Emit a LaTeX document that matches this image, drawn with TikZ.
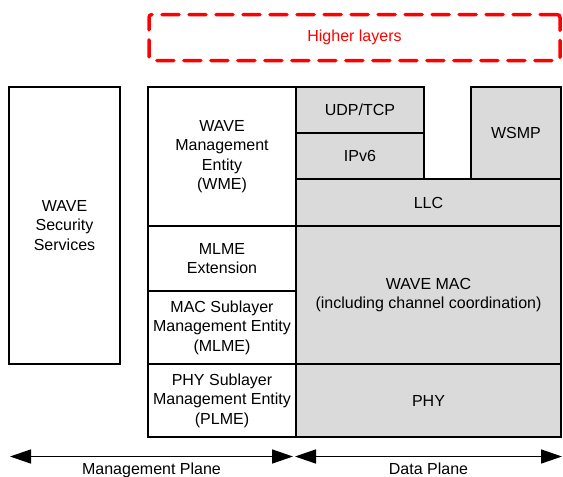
\documentclass[tikz,border=0pt]{standalone}
\usepackage{fontspec}
\setmainfont{Liberation Sans}
\usetikzlibrary{arrows.meta,positioning}
\definecolor{layer}{HTML}{DADADA}
\definecolor{upper}{HTML}{FF0000}

\begin{document}
\begin{tikzpicture}[x=1pt, y=-1pt, font=\fontsize{16}{19.5}\selectfont,
  box/.style={draw, line width=1.7pt, anchor=north west, outer sep=0pt, inner sep=0pt, align=center},
  mgmt/.style={box, fill=white},
  data/.style={box, fill=layer},
  plane/.style={{Triangle[length=21pt,width=14pt]}-{Triangle[length=21pt,width=14pt]}, line width=1.5pt},
  planelabel/.style={anchor=base, yshift=-17.5pt}]
  \useasboundingbox (0,0) rectangle (563,477);

  % higher layers (dashed, on top)
  \node[draw=upper, text=upper, dash pattern=on 17pt off 10pt, line cap=round, line width=3.5pt,
        rounded corners=3pt, anchor=north west, outer sep=0pt,
        minimum width=411pt, minimum height=46pt] (higher) at (149,14.5) {Higher layers};

  % security services
  \node[mgmt, minimum width=111pt, minimum height=277pt] (sec) at (9,87) {WAVE\\Security\\Services};

  % management plane column
  \node[mgmt, minimum width=148pt, minimum height=139pt] (wme) at (148,87) {WAVE\\Management\\Entity\\(WME)};
  \node[mgmt, minimum width=148pt, minimum height=65pt] (mlmeext) at (148,226) {MLME\\Extension};
  \node[mgmt, minimum width=148pt, minimum height=73pt] (mlme) at (148,291) {MAC Sublayer\\Management Entity\\(MLME)};
  \node[mgmt, minimum width=148pt, minimum height=73pt] (plme) at (148,364) {PHY Sublayer\\Management Entity\\(PLME)};

  % data plane column
  \node[data, minimum width=128pt, minimum height=46pt] (udp) at (296,87) {UDP/TCP};
  \node[data, minimum width=128pt, minimum height=46pt] (ipv6) at (296,133) {IPv6};
  \node[data, minimum width=90pt, minimum height=92pt] (wsmp) at (471,87) {WSMP};
  \node[data, minimum width=265pt, minimum height=47pt] (llc) at (296,179) {LLC};
  \node[data, minimum width=265pt, minimum height=138pt] (wavemac) at (296,226) {WAVE MAC\\(including channel coordination)};
  \node[data, minimum width=265pt, minimum height=73pt] (phy) at (296,364) {PHY};

  % planes
  \coordinate (mp-l) at (10,456.5);
  \coordinate (mp-r) at (293,456.5);
  \coordinate (dp-l) at (295,456.5);
  \coordinate (dp-r) at (562,456.5);
  \draw[plane] (mp-l) -- node[planelabel] (mplabel) {Management Plane} (mp-r);
  \draw[plane] (dp-l) -- node[planelabel] (dplabel) {Data Plane} (dp-r);
\end{tikzpicture}
\end{document}
